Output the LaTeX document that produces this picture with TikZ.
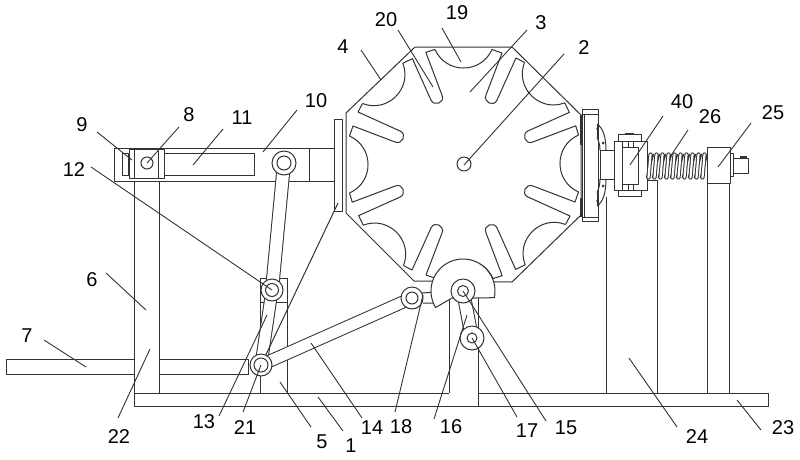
\documentclass[tikz,border=0pt]{standalone}
\usepackage{fontspec}
\setmainfont{Liberation Sans}
\definecolor{ink}{HTML}{333333}
\tikzset{
  part/.style={draw=ink,line width=1pt,line join=round},
  solid part/.style={part,fill=white},
  lead/.style={draw=ink,line width=0.9pt},
  lab/.style={text=black,font=\fontsize{20}{22}\selectfont,inner sep=0pt},
  bar/.style={draw=ink,line width=1pt,double=white,double distance=#1},
  pivot/.style={circle,draw=ink,line width=1pt,fill=white,inner sep=0pt,minimum size=#1}
}
\begin{document}
\begin{tikzpicture}[x=1pt,y=-1pt]
\useasboundingbox (0,0) rectangle (800,459);
\fill[white] (0,0) rectangle (800,459);
% octagon
\draw[part] (415,47)--(512,47)--(581,115)--(581,215)--(512,282)--(414,281)--(346,213)--(346,113)--cycle;
\foreach \a in {0,45,...,315}{
 \begin{scope}[shift={(464,164)},rotate=\a]
  \draw[part] (-29,-114.5) .. controls (-18,-89.8) and (17,-89.8) .. (28,-114.5)
    -- (38,-111) -- (22,-69) .. controls (18.9,-61.6) and (29.9,-56.6) .. (33,-64)
    -- (52,-106) -- (60.5,-101.5);
 \end{scope}
}
\node[pivot=14pt] (hub) at (464,164) {};
% base and supports
\draw[part] (449,393)--(134,393)--(134,406)--(768,406)--(768,393)--(478,393);
\draw[part] (478,298)--(478,406);
\draw[part] (449,298)--(449,393);
% left post and beam
\draw[part] (134,178)--(134,393);
\draw[part] (159,178)--(159,393);
\draw[part] (6,359) rectangle (134,374);
\draw[part] (159,359)--(248,359)--(248,374)--(159,374);
% post under linkage
\draw[part] (260,278) rectangle (287,302);
\draw[part] (260,302)--(260,393);
\draw[part] (287,302)--(287,393);
% top bar
\draw[solid part] (114,148) rectangle (334,181);
\draw[part] (309,148)--(309,181);
\draw[solid part] (334,119) rectangle (342,211);
\draw[part] (122,153) rectangle (128,175);
\draw[solid part] (129,149) rectangle (164,178);
\draw[part] (134,149)--(134,178);
\draw[part] (158,149)--(158,178);
\draw[part] (164,153) rectangle (254,175);
\node[pivot=12pt] (p8) at (147,163) {};
% plate rod
\coordinate (rodtop) at (338,203);
% linkage pivots coordinates
\coordinate (c10) at (284,163);
\coordinate (c12) at (272,290);
\coordinate (c21) at (261,365);
\coordinate (c18) at (412,298);
\coordinate (c15) at (463,291);
\coordinate (c17) at (472,338);
\draw[bar=12pt] (c10)--(c12);
\draw[bar=11pt] (c12)--(c21);
\draw[bar=11pt] (c21)--(c18);
\draw[bar=12pt] (c15)--(c17);
\draw[part] (rodtop)--(c21);
% stub between 18 and sector
\draw[solid part] (422,293)--(436,292)--(440,303)--(423,303);
% sector
\draw[solid part] (452,298)--(435.6,307.5)
  -- plot[domain=149:372,samples=50] ({463+32*cos(\x)},{291+32*sin(\x)})
  --(476,298)--cycle;
% pivots
\node[pivot=24pt] (p10) at (c10) {};
\node[pivot=14pt] (p10i) at (c10) {};
\node[pivot=22pt] (p12) at (c12) {};
\node[pivot=13pt] (p12i) at (c12) {};
\node[pivot=22pt] (p21) at (c21) {};
\node[pivot=14pt] (p21i) at (c21) {};
\node[pivot=22pt] (p18) at (c18) {};
\node[pivot=12pt] (p18i) at (c18) {};
\node[pivot=24pt] (p15) at (c15) {};
\node[pivot=11pt] (p15i) at (c15) {};
\node[pivot=24pt] (p17) at (c17) {};
\node[pivot=10pt] (p17i) at (c17) {};
% right posts
\draw[part] (606,197)--(606,393);
\draw[part] (657,180)--(657,393);
\draw[part] (707,183)--(707,393);
\draw[part] (729,183)--(729,393);
\draw[part] (647,180)--(657,180);
% disc plate
\draw[solid part] (582,109) rectangle (598,221);
\draw[part] (582,114)--(598,114);
\draw[part] (582,217)--(598,217);
\draw[part] (584,114)--(584,217);
\draw[draw=ink,line width=1.5pt] (581,115)--(581,145);
\draw[draw=ink,line width=1.5pt] (581,198)--(581,217);
% curved pieces
\draw[part] (597,124) .. controls (603,128) and (606,137) .. (606,150);
\draw[part] (597,137) .. controls (599,142) and (600,146) .. (600,150);
\draw[part] (597,124)--(597,137);
\draw[part] (597,206) .. controls (603,202) and (606,193) .. (606,179);
\draw[part] (597,193) .. controls (599,188) and (600,184) .. (600,179);
\draw[part] (597,206)--(597,193);
\fill[ink] (603,143) circle (1.5) (603,186) circle (1.5) (597,129) circle (1) (597,201) circle (1);
% hub and clamp
\draw[solid part] (600,150) rectangle (614,179);
\draw[solid part] (614,141) rectangle (622,190);
\draw[solid part] (622,141) rectangle (647,190);
\draw[part] (618,134) rectangle (641,141);
\draw[part] (618,190) rectangle (641,196);
\draw[part] (623,147)--(638,147)--(638,184)--(623,184);
\draw[part] (628,141)--(628,147);
\draw[part] (633,141)--(633,147);
\draw[part] (628,184)--(628,190);
\draw[part] (633,184)--(633,190);
\draw[draw=ink,line width=1.4pt] (625,133.5)--(634,133.5);
\draw[draw=ink,line width=1.4pt] (625,196.5)--(634,196.5);
% spring
\foreach \s in {0,...,9}{
  \draw[draw=ink,line width=1.6pt] ({653.5+6*\s},154) -- ({646.5+6*\s},178);
  \draw[draw=ink,line width=4.2pt,line cap=round] ({650.5+6*\s},154.5) -- ({648.5+6*\s},177.5);
  \draw[draw=white,line width=2.2pt,line cap=round] ({650.5+6*\s},154.5) -- ({648.5+6*\s},177.5);
}
% end block
\draw[solid part] (707,147) rectangle (730,183);
\draw[part] (730,153) rectangle (733,176);
\draw[part] (733,158) rectangle (748,173);
\draw[draw=ink,line width=1.6pt] (740,157)--(747,157);
% labels
\node[lab] (l20) at (386,20) {20};
\node[lab] (l19) at (457,13) {19};
\node[lab] (l3) at (541,23) {3};
\node[lab] (l2) at (584,48) {2};
\node[lab] (l4) at (343,47) {4};
\node[lab] (l10) at (316,101) {10};
\node[lab] (l11) at (242,118) {11};
\node[lab] (l8) at (189,115) {8};
\node[lab] (l9) at (82,125) {9};
\node[lab] (l12) at (74,170) {12};
\node[lab] (l6) at (92,280) {6};
\node[lab] (l7) at (27,336) {7};
\node[lab] (l40) at (682,102) {40};
\node[lab] (l26) at (710,117) {26};
\node[lab] (l25) at (773,113) {25};
\node[lab] (l22) at (119,437) {22};
\node[lab] (l13) at (204,422) {13};
\node[lab] (l21) at (245,428) {21};
\node[lab] (l5) at (322,442) {5};
\node[lab] (l1) at (351,446) {1};
\node[lab] (l14) at (372,428) {14};
\node[lab] (l18) at (401,427) {18};
\node[lab] (l16) at (451,427) {16};
\node[lab] (l17) at (527,431) {17};
\node[lab] (l15) at (566,428) {15};
\node[lab] (l24) at (697,437) {24};
\node[lab] (l23) at (783,428) {23};
% leaders: name, start, end
\foreach \n/\sx/\sy/\ex/\ey in {
 2/564/54/464/165, 3/527/30/470/92, 4/361/50/381/80, 19/442/28/461/62, 20/398/30/433/87,
 10/297/110/263/152, 11/223/129/193/165, 8/179/127/147/163, 9/97/132/132/160, 12/91/167/272/290,
 6/106/273/146/310, 7/44/340/86/367, 22/118/418/150/349, 13/219/416/267/315, 21/243/412/261/365,
 5/311/427/280/382, 1/343/431/318/397, 14/362/418/311/343, 18/395/412/423/295, 16/434/419/467/315,
 17/517/417/472/338, 15/546/421/463/291, 24/677/427/629/358, 23/761/430/737/400,
 40/663/116/630/165, 26/688/130/670/157, 25/751/123/718/167}{
  \coordinate (ls\n) at (\sx,\sy);
  \coordinate (le\n) at (\ex,\ey);
  \draw[lead] (ls\n)--(le\n);
}
\end{tikzpicture}
\end{document}
